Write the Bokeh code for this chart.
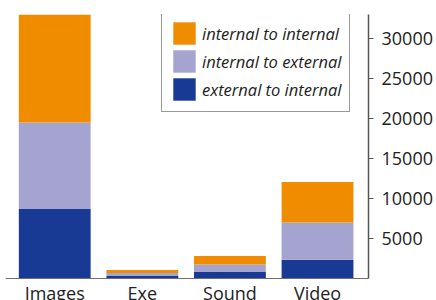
from bokeh.plotting import figure
from bokeh.models import Range1d, FixedTicker, Legend, LegendItem, ColumnDataSource
from bokeh.embed import file_html
from bokeh.resources import INLINE

categories = ["Images", "Exe", "Sound", "Video"]
external_to_internal = [8700, 300, 800, 2350]
internal_to_external = [10800, 400, 950, 4650]
internal_to_internal = [13500, 350, 1050, 5050]
y_ticks = [5000, 10000, 15000, 20000, 25000, 30000]
y_max = 33000

series = ["external_to_internal", "internal_to_external", "internal_to_internal"]
labels = {"external_to_internal": "external to internal",
          "internal_to_external": "internal to external",
          "internal_to_internal": "internal to internal"}
colors = ["#183A94", "#A5A3D0", "#F08C00"]

source = ColumnDataSource(dict(
    x=list(range(len(categories))),
    external_to_internal=external_to_internal,
    internal_to_external=internal_to_external,
    internal_to_internal=internal_to_internal,
))

FONT = "Open Sans"

# frame spans down to the canvas bottom; the room below zero holds the category labels
p = figure(frame_width=363, frame_height=286,
           x_range=Range1d(-0.562, len(categories) - 0.418),
           y_range=Range1d(-y_max * 22 / 264, y_max),
           y_axis_location="right",
           output_backend="svg", toolbar_location=None,
           min_border_left=5, min_border_top=14, min_border_bottom=0,
           min_border_right=10)
p.outline_line_color = None
p.grid.visible = False
p.background_fill_color = "white"
p.border_fill_color = "white"

renderers = p.vbar_stack(series, x="x", width=0.82, source=source,
                         color=colors, line_color=None)

# x axis, drawn at y = 0
xa = p.xaxis[0]
xa.fixed_location = 0
xa.ticker = FixedTicker(ticks=list(range(len(categories))))
xa.major_label_overrides = {i: c for i, c in enumerate(categories)}
xa.major_tick_out = 0
xa.major_tick_in = 0
xa.minor_tick_out = 0
xa.minor_tick_in = 0
xa.axis_line_color = "#6E6E6E"
xa.axis_line_width = 1
xa.major_label_text_font = FONT
xa.major_label_text_font_size = "18px"
xa.major_label_text_color = "#222222"
xa.major_label_standoff = 2

# y axis (right)
ya = p.yaxis[0]
ya.bounds = (0, y_max)
ya.ticker = FixedTicker(ticks=y_ticks)
ya.axis_line_color = "#555555"
ya.axis_line_width = 1.5
ya.major_tick_line_color = "#555555"
ya.major_tick_line_width = 1
ya.major_tick_out = 5
ya.major_tick_in = 0
ya.minor_tick_out = 0
ya.minor_tick_in = 0
ya.major_label_text_font = FONT
ya.major_label_text_font_size = "18px"
ya.major_label_text_color = "#222222"
ya.major_label_standoff = 8

items = [LegendItem(label=labels[s], renderers=[r]) for s, r in zip(series, renderers)][::-1]
legend = Legend(items=items, location=(156, 188),
                glyph_width=28, glyph_height=28, spacing=-2,
                padding=8, margin=0, label_standoff=4,
                label_text_font=FONT, label_text_font_style="italic",
                label_text_font_size="16.5px", label_text_color="#222222",
                border_line_color="#333333", border_line_width=1.5,
                background_fill_color="white", background_fill_alpha=1)
p.add_layout(legend, "center")

open("out.html", "w").write(file_html(p, INLINE))
